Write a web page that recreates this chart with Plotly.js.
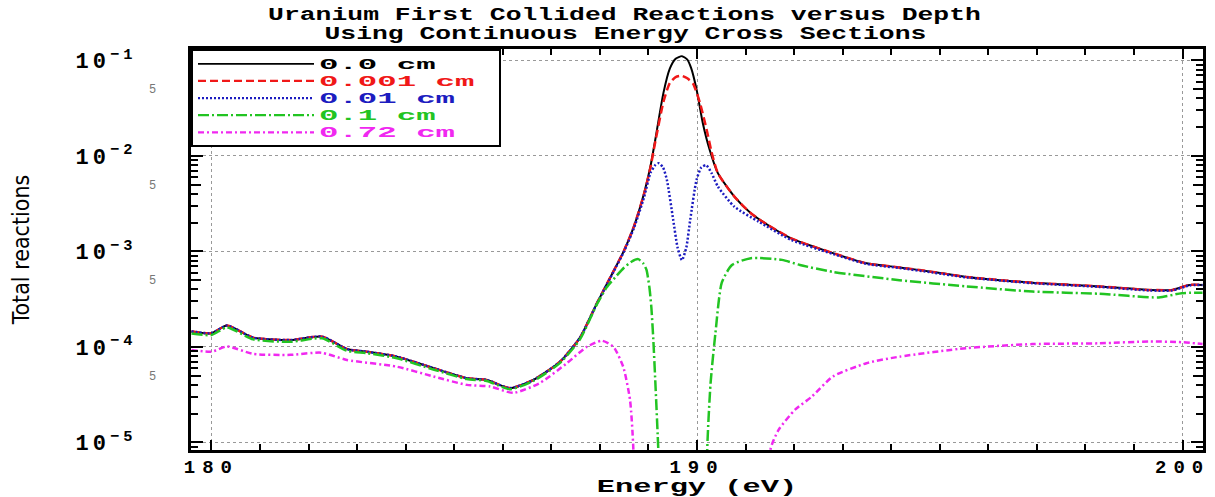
<!DOCTYPE html>
<html><head><meta charset="utf-8">
<script src="https://cdn.plot.ly/plotly-3.0.1.min.js"></script>
<style>
html,body{margin:0;padding:0;background:#fff;}
.legendtext{transform-box:fill-box;transform-origin:left center;transform:scaleX(2.7);}
.main-svg .legendtext{transform:scale(2.7,1.35);}
.main-svg .legend .scrollbox{transform:scaleY(0.9);}
.main-svg .legend .bg{transform:scaleY(0.9);}
.main-svg .gtitle, .main-svg .annotation-text{transform-box:fill-box;transform-origin:center;transform:scale(1.65,1.15);}
.main-svg .xtitle{transform-box:fill-box;transform-origin:center;transform:scale(1.9,1.1);}
.ytick text{letter-spacing:4px;}
.xtick text{letter-spacing:7px;}
</style>
</head><body><div id="chart" style="width:1215px;height:497px;"></div>
<script>
// ---- data ----
const titleLine1 = 'Uranium First Collided Reactions versus Depth';
const titleLine2 = 'Using Continuous Energy Cross Sections';
const xTitle = 'Energy (eV)';
const yTitle = 'Total reactions';
const seriesNames = ['0.0 cm', '0.001 cm', '0.01 cm', '0.1 cm', '0.72 cm'];
const seriesColors = ['#000000', '#f01818', '#1c1cc0', '#22c422', '#f028f0'];

const energy0 = [179.59,180.00,180.32,180.86,181.63,182.28,182.79,183.20,183.82,184.57,185.26,185.67,186.15,186.63,187.18,187.59,187.94,188.28,188.49,188.70,188.91,189.04,189.14,189.31,189.44,189.56,189.69,189.80,189.88,189.99,190.12,190.26,190.43,190.77,191.11,191.46,191.94,192.80,193.49,194.17,194.86,195.55,196.91,198.29,199.32,199.79,200.14,200.41];
const reac0 = [1.45e-4,1.39e-4,1.67e-4,1.25e-4,1.18e-4,1.28e-4,9.5e-5,8.9e-5,7.9e-5,6.0e-5,4.7e-5,4.5e-5,3.7e-5,4.5e-5,7.0e-5,1.25e-4,2.87e-4,6.2e-4,1.0e-3,1.82e-3,4.07e-3,7.7e-3,1.47e-2,4.6e-2,8.2e-2,1.04e-1,1.11e-1,1.02e-1,8.3e-2,5.0e-2,2.2e-2,1.16e-2,6.6e-3,3.75e-3,2.51e-3,1.89e-3,1.37e-3,9.6e-4,7.5e-4,6.8e-4,6.1e-4,5.4e-4,4.7e-4,4.3e-4,3.95e-4,3.95e-4,4.45e-4,4.45e-4];

const energy001 = [179.59,180.00,180.32,180.86,181.63,182.28,182.79,183.20,183.82,184.57,185.26,185.67,186.15,186.63,187.18,187.59,187.94,188.28,188.49,188.70,188.91,189.04,189.14,189.31,189.44,189.56,189.69,189.80,189.92,190.06,190.20,190.30,190.43,190.77,191.11,191.46,191.94,192.80,193.49,194.17,194.86,195.55,196.91,198.29,199.32,199.79,200.14,200.41];
const reac001 = [1.45e-4,1.39e-4,1.67e-4,1.25e-4,1.18e-4,1.28e-4,9.5e-5,8.9e-5,7.9e-5,6.0e-5,4.7e-5,4.5e-5,3.7e-5,4.5e-5,7.0e-5,1.25e-4,2.87e-4,6.2e-4,1.0e-3,1.82e-3,4.0e-3,7.5e-3,1.4e-2,3.7e-2,5.8e-2,6.7e-2,6.9e-2,6.5e-2,5.7e-2,3.6e-2,1.87e-2,1.1e-2,6.6e-3,3.75e-3,2.51e-3,1.89e-3,1.37e-3,9.6e-4,7.5e-4,6.8e-4,6.1e-4,5.4e-4,4.7e-4,4.3e-4,3.95e-4,3.95e-4,4.45e-4,4.45e-4];

const energy01 = [179.59,180.00,180.32,180.86,181.63,182.28,182.79,183.20,183.82,184.57,185.26,185.67,186.15,186.63,187.18,187.59,187.94,188.28,188.49,188.70,188.91,189.04,189.14,189.21,189.30,189.38,189.51,189.60,189.69,189.78,189.86,189.99,190.09,190.19,190.30,190.43,190.77,191.27,191.94,192.80,193.49,194.17,194.86,195.55,196.91,198.29,199.32,199.79,200.14,200.41];
const reac01 = [1.45e-4,1.39e-4,1.67e-4,1.25e-4,1.18e-4,1.28e-4,9.5e-5,8.9e-5,7.9e-5,6.0e-5,4.7e-5,4.5e-5,3.7e-5,4.5e-5,7.0e-5,1.25e-4,2.85e-4,6.1e-4,9.8e-4,1.75e-3,3.7e-3,6.6e-3,8.0e-3,8.4e-3,7.6e-3,5.6e-3,2.14e-3,1.1e-3,8.1e-4,1.1e-3,2.14e-3,5.6e-3,7.6e-3,8.0e-3,6.6e-3,4.78e-3,2.94e-3,2.05e-3,1.32e-3,9.4e-4,7.4e-4,6.7e-4,6.0e-4,5.35e-4,4.65e-4,4.25e-4,3.9e-4,3.9e-4,4.4e-4,4.45e-4];

const energy1 = [179.59,180.00,180.32,180.86,181.63,182.28,182.79,183.20,183.82,184.57,185.26,185.67,186.15,186.63,187.18,187.59,187.94,188.14,188.35,188.49,188.65,188.79,188.90,188.96,189.02,189.06,189.10,189.15,189.19,189.22,189.25,190.18,190.21,190.28,190.38,190.51,190.72,191.11,191.75,192.12,192.80,194.17,195.55,196.91,198.29,199.51,199.98,200.41];
const reac1 = [1.38e-4,1.33e-4,1.60e-4,1.20e-4,1.13e-4,1.23e-4,9.1e-5,8.6e-5,7.6e-5,5.8e-5,4.6e-5,4.4e-5,3.6e-5,4.4e-5,6.8e-5,1.2e-4,2.8e-4,4.2e-4,5.6e-4,6.7e-4,7.8e-4,8.3e-4,7.4e-4,6.4e-4,4.2e-4,2.6e-4,1.2e-4,3.5e-5,1.2e-5,5e-6,1e-7,1e-7,8.3e-6,4.2e-5,1.4e-4,4.7e-4,7.2e-4,8.5e-4,8.15e-4,7.2e-4,6.1e-4,5.0e-4,4.3e-4,3.8e-4,3.6e-4,3.3e-4,3.65e-4,3.7e-4];

const energy72 = [179.59,180.00,180.32,180.86,181.63,182.26,182.79,183.82,184.57,185.26,185.74,186.22,186.77,187.32,187.73,188.04,188.28,188.48,188.62,188.69,188.72,191.47,191.51,191.68,192.02,192.36,192.80,193.49,194.17,195.55,196.91,198.29,199.32,199.98,200.41];
const reac72 = [9.3e-5,8.9e-5,1.01e-4,8.45e-5,8.25e-5,8.7e-5,7.3e-5,6.2e-5,4.9e-5,4.0e-5,3.85e-5,3.3e-5,4.2e-5,6.75e-5,1.0e-4,1.16e-4,1.0e-4,6.2e-5,2.8e-5,8.3e-6,1e-7,1e-7,8.3e-6,1.35e-5,2.2e-5,3.0e-5,4.9e-5,6.75e-5,7.9e-5,9.7e-5,1.07e-4,1.09e-4,1.14e-4,1.12e-4,1.07e-4];

const xTickVals = [180, 190, 200];
const xTickText = ['180', '190', '200'];
const yDecadeVals = [1e-5, 1e-4, 1e-3, 1e-2, 1e-1];
const yDecadeExp = ['\u22125', '\u22124', '\u22123', '\u22122', '\u22121'];
const yFiveVals = [5e-5, 5e-4, 5e-3, 5e-2];
const yFiveText = ['5', '5', '5', '5'];

const yDecadeText = yDecadeExp.map(e => '10<sup>' + e + '</sup>\u00a0');
// minor tick positions on the log axis (2..9 except 5 in each decade)
const yMinorVals = [];
[1e-6, 1e-5, 1e-4, 1e-3, 1e-2, 1e-1].forEach(d => [2,3,4,6,7,8,9].forEach(m => yMinorVals.push(m * d)));

const xs = [energy0, energy001, energy01, energy1, energy72];
const ys = [reac0, reac001, reac01, reac1, reac72];
const dashes = ['solid', '8px,4px', '2px,2px', '11px,3px,2px,3px', '6px,3px,2px,3px'];
const widths = [2, 2.5, 2.5, 2.5, 2.5];

const traces = seriesNames.map((n, i) => ({
  type: 'scatter', mode: 'lines', x: xs[i], y: ys[i],
  name: '<span style="color:' + seriesColors[i] + '">' + n + '\u00a0</span>',
  line: {color: seriesColors[i], width: widths[i], dash: dashes[i], shape: 'spline', smoothing: 0.6},
  hoverinfo: 'x+y'
}));
traces.push({type: 'scatter', mode: 'lines', x: [], y: [], yaxis: 'y2', showlegend: false, hoverinfo: 'skip'});

const mono = 'Liberation Mono, Courier New, monospace';

const layout = {
  width: 1215, height: 497,
  margin: {l: 191, r: 12, t: 49, b: 47},
  paper_bgcolor: '#fff', plot_bgcolor: '#fff',
  showlegend: true,
  title: {text: titleLine1, xref: 'container', x: 0.514, xanchor: 'center', yref: 'container', y: 0.973, yanchor: 'middle',
    font: {family: mono, size: 16, weight: 'bold', color: '#000'}},
  annotations: [{text: titleLine2, xref: 'paper', yref: 'paper', x: 0.429, y: 1.038, xanchor: 'center', yanchor: 'middle', showarrow: false,
    font: {family: mono, size: 16, weight: 'bold', color: '#000'}}],
  legend: {x: 0, y: 1, xanchor: 'left', yanchor: 'top', bgcolor: '#fff', bordercolor: '#000', borderwidth: 2,
    font: {family: mono, size: 12, weight: 'bold', color: '#000'},
    itemwidth: 116, tracegroupgap: 0},
  xaxis: {
    type: 'linear', range: [179.58, 200.42],
    tickmode: 'array', tickvals: xTickVals, ticktext: xTickText,
    ticks: 'inside', ticklen: 10, tickwidth: 1.5, tickcolor: '#000',
    showline: true, linewidth: 3, linecolor: '#000', mirror: 'ticks',
    showgrid: true, gridcolor: '#999', griddash: 'dot', gridwidth: 1, zeroline: false,
    tickfont: {family: mono, size: 19, weight: 'bold', color: '#000'}, ticklabelstandoff: -3,
    minor: {dtick: 1, tick0: 180, ticks: 'inside', ticklen: 6, tickcolor: '#000', showgrid: false},
    title: {text: xTitle, font: {family: mono, size: 16, weight: 'bold', color: '#000'}, standoff: 3}
  },
  yaxis: {
    type: 'log', range: [-5.08, -0.88],
    tickmode: 'array', tickvals: yDecadeVals, ticktext: yDecadeText,
    ticks: 'inside', ticklen: 12, tickwidth: 1.5, tickcolor: '#000',
    showline: true, linewidth: 3, linecolor: '#000', mirror: 'ticks',
    showgrid: true, gridcolor: '#999', griddash: 'dot', gridwidth: 1, zeroline: false,
    tickfont: {family: mono, size: 22, weight: 'bold', color: '#000'}, ticklabelstandoff: 30,
    minor: {tickmode: 'array', tickvals: yMinorVals, ticks: 'inside', ticklen: 7, tickcolor: '#000', showgrid: false},
    title: {text: yTitle, font: {family: 'Liberation Sans Narrow, DejaVu Sans Condensed, Liberation Sans, sans-serif', size: 23, color: '#000'}, standoff: 40}
  },
  yaxis2: {
    type: 'log', range: [-5.08, -0.88], overlaying: 'y', side: 'left', anchor: 'x',
    tickmode: 'array', tickvals: yFiveVals, ticktext: yFiveText,
    ticks: 'inside', ticklen: 10, tickwidth: 1.5, tickcolor: '#000', mirror: 'ticks',
    showgrid: false, showline: false, zeroline: false,
    tickfont: {family: 'Liberation Sans, sans-serif', size: 12, color: '#777'}, ticklabelstandoff: 34
  }
};

Plotly.newPlot('chart', traces, layout, {displayModeBar: false, responsive: false});
</script></body></html>
